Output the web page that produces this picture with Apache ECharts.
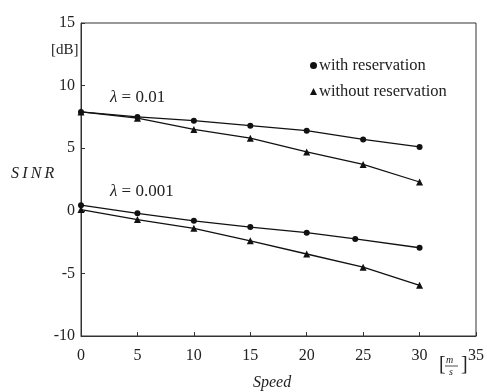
<!DOCTYPE html>
<html>
<head>
<meta charset="utf-8">
<script src="https://cdn.jsdelivr.net/npm/echarts@6/dist/echarts.min.js"></script>
<style>
  html, body { margin: 0; padding: 0; background: #fff; }
  #chart { width: 487px; height: 392px; }
</style>
</head>
<body>
<div id="chart"></div>
<script>
// speed values (m/s)
const speeds = [0, 5, 10, 15, 20, 25, 30];
const speedsLowWith = [0, 5, 10, 15, 20, 24.3, 30];
// SINR in dB
const highWith = [7.9, 7.5, 7.2, 6.8, 6.4, 5.7, 5.1];
const highWithout = [7.9, 7.4, 6.5, 5.8, 4.7, 3.7, 2.3];
const lowWith = [0.45, -0.2, -0.8, -1.3, -1.75, -2.25, -2.95];
const lowWithout = [0.1, -0.7, -1.4, -2.4, -3.45, -4.5, -5.95];
const xTicks = [0, 35, 5];
const yTicks = [-10, 15, 5];

const serif = '"Liberation Serif", "DejaVu Serif", serif';

function pairs(xs, ys) {
    return xs.map(function (x, i) { return [x, ys[i]]; });
}

function line(name, symbol, xs, ys) {
    return {
        name: name,
        type: 'line',
        data: pairs(xs, ys),
        symbol: symbol,
        symbolSize: symbol === 'circle' ? 6 : 7,
        showSymbol: true,
        clip: false,
        lineStyle: { color: '#111', width: 1.3 },
        itemStyle: { color: '#111' },
        animation: false
    };
}

const myChart = echarts.init(document.getElementById('chart'));
const option = {
    backgroundColor: '#fff',
    textStyle: { fontFamily: serif, color: '#222' },
    grid: {
        left: 81, right: 8, top: 23, bottom: 56,
        show: true, borderColor: '#333', borderWidth: 1
    },
    legend: {
        orient: 'vertical',
        left: 305, top: 52,
        itemWidth: 7, itemHeight: 7, itemGap: 9,
        textStyle: { fontFamily: serif, fontSize: 16.5, color: '#222', padding: [0, 0, 0, -3] },
        data: [
            { name: 'with reservation', icon: 'circle' },
            { name: 'without reservation', icon: 'triangle' }
        ]
    },
    xAxis: {
        type: 'value',
        min: xTicks[0], max: xTicks[1], interval: xTicks[2],
        axisLine: { onZero: false, lineStyle: { color: '#333' } },
        axisTick: { inside: true, length: 4, lineStyle: { color: '#333' } },
        axisLabel: { fontFamily: serif, fontSize: 16, color: '#222', margin: 12 },
        splitLine: { show: false }
    },
    yAxis: {
        type: 'value',
        min: yTicks[0], max: yTicks[1], interval: yTicks[2],
        axisLine: { show: true, onZero: false, lineStyle: { color: '#333' } },
        axisTick: { show: true, inside: true, length: 4, lineStyle: { color: '#333' } },
        axisLabel: { fontFamily: serif, fontSize: 16, color: '#222', margin: 6 },
        splitLine: { show: false }
    },
    graphic: [
        { type: 'text', left: 51, top: 43, style: { text: '[dB]', font: '15px ' + serif, fill: '#222' } },
        { type: 'text', left: 11, top: 166, style: { text: 'S\u2009I\u2009N\u2009R', font: 'italic 16px ' + serif, fill: '#222' } },
        { type: 'text', left: 253, top: 375, style: { text: 'Speed', font: 'italic 16px ' + serif, fill: '#222' } },
        { type: 'text', left: 110, top: 89, style: {
            text: '{l|λ} = 0.01', font: '17px ' + serif, fill: '#222',
            rich: { l: { fontStyle: 'italic', fontFamily: serif, fontSize: 17 } } } },
        { type: 'text', left: 110, top: 183, style: {
            text: '{l|λ} = 0.001', font: '17px ' + serif, fill: '#222',
            rich: { l: { fontStyle: 'italic', fontFamily: serif, fontSize: 17 } } } },
        // [m/s] unit as a small fraction
        { type: 'text', left: 439, top: 355, style: { text: '[', font: '20px ' + serif, fill: '#222' } },
        { type: 'text', left: 461, top: 355, style: { text: ']', font: '20px ' + serif, fill: '#222' } },
        { type: 'text', left: 446, top: 355, style: { text: 'm', font: 'italic 10px ' + serif, fill: '#222' } },
        { type: 'line', shape: { x1: 445, y1: 366, x2: 458, y2: 366 }, style: { stroke: '#222', lineWidth: 0.8 } },
        { type: 'text', left: 449, top: 367, style: { text: 's', font: 'italic 10px ' + serif, fill: '#222' } }
    ],
    series: [
        line('with reservation', 'circle', speeds, highWith),
        line('without reservation', 'triangle', speeds, highWithout),
        line('with reservation', 'circle', speedsLowWith, lowWith),
        line('without reservation', 'triangle', speeds, lowWithout)
    ]
};
myChart.setOption(option);
window.addEventListener("resize", function () {
    myChart.resize();
});
</script>
</body>
</html>
